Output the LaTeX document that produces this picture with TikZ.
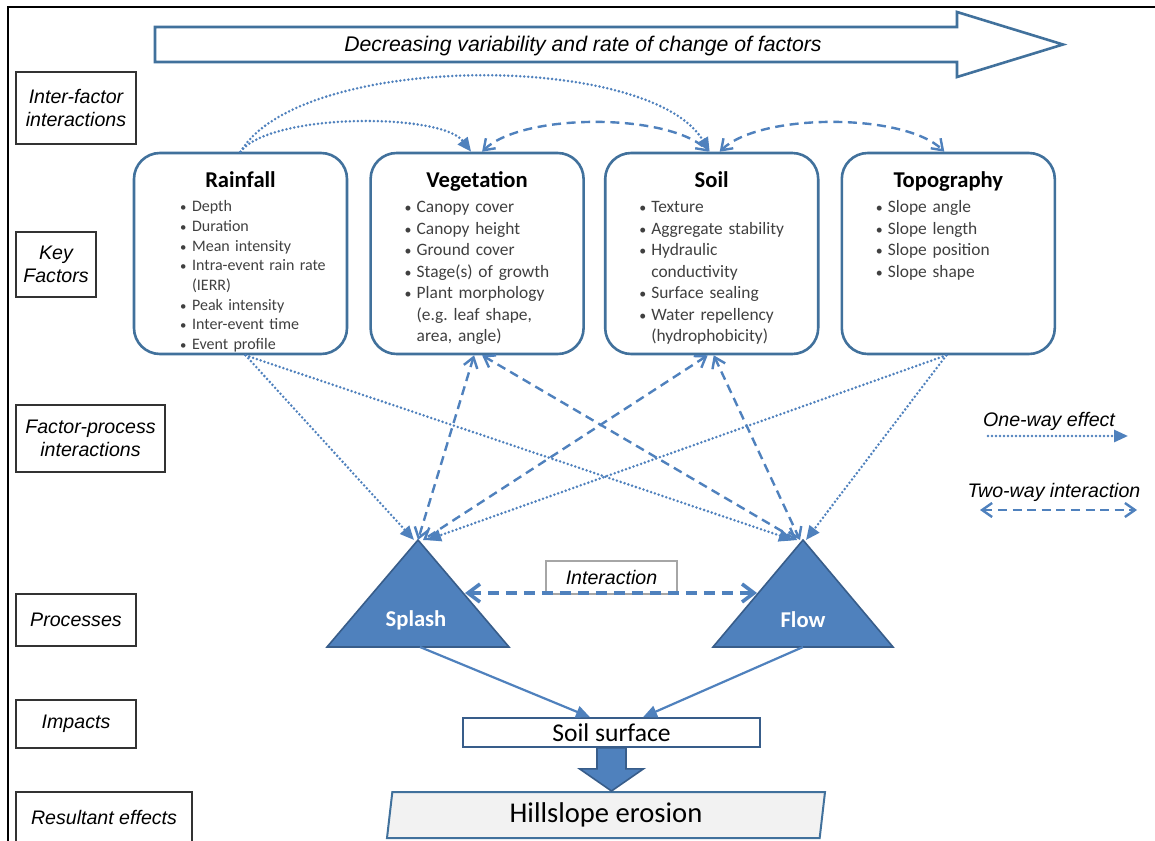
\documentclass[tikz,border=0pt]{standalone}
\usepackage{graphicx}
\usepackage{fontspec}
\setmainfont{Carlito}
\newfontfamily\arialfont{Liberation Sans}
\usetikzlibrary{arrows.meta,positioning,shapes.geometric,calc}
\definecolor{boxblue}{HTML}{41719C}
\definecolor{linkblue}{HTML}{4F81BD}
\definecolor{darkblue}{HTML}{385D8A}
\definecolor{itemgray}{HTML}{404040}
\definecolor{hillgray}{HTML}{F2F2F2}
\newcommand\itembul{\makebox[6pt][l]{\scalebox{0.8}{\textbullet}}}
\newcommand\itemcont{\hspace*{6pt}}

\begin{document}
\begin{tikzpicture}[x=0.5pt,y=-0.5pt,
    level/.style={draw=black!80, line width=0.7pt, align=center, inner sep=0pt,
        font=\arialfont\itshape\fontsize{9.8pt}{11.6pt}\selectfont},
    factor/.style={draw=boxblue, line width=1.3pt, rounded corners=13pt,
        minimum width=106.5pt, minimum height=100.5pt},
    factortitle/.style={font=\fontsize{11.3pt}{13pt}\selectfont\bfseries, inner sep=0pt},
    factorlist/.style={font=\fontsize{8.7pt}{10.75pt}\selectfont, text=itemgray,
        inner sep=0pt, text width=90pt, align=left, anchor=base west},
    oneway/.style={draw=linkblue, line width=1.4pt, line cap=round,
        dash pattern=on 0pt off 2pt, -{Triangle[length=7pt,width=6pt]}},
    twoway/.style={draw=linkblue, line width=1.2pt, dash pattern=on 4.5pt off 2.8pt,
        {Straight Barb[length=5pt,width=7pt]}-{Straight Barb[length=5pt,width=7pt]}},
    process/.style={fill=linkblue, draw=darkblue, line width=0.8pt},
    proclabel/.style={text=white, font=\fontsize{11.3pt}{13pt}\selectfont\bfseries},
    impact/.style={draw=linkblue, line width=1.1pt, -{Triangle[length=7pt,width=6pt]}},
    legend/.style={font=\arialfont\itshape\fontsize{9.8pt}{11.6pt}\selectfont},
]
    \useasboundingbox (0,0) rectangle (1155,840);
    \fill[white] (0,0) rectangle (1155,840);
    \draw[line width=1.4pt] (8,850) |- (1165,7);

    % Trend arrow
    \draw[boxblue, line width=1.3pt] (155,27) -- (957,27) -- (957,12) -- (1063,44.5)
        -- (957,77) -- (957,62) -- (155,62) -- cycle;
    \node[font=\arialfont\itshape\fontsize{10.6pt}{12pt}\selectfont] (trend) at (583,46)
        {Decreasing variability and rate of change of factors};

    % Levels
    \node[level, minimum width=60pt, minimum height=36pt] (lvinter) at (76,108) {Inter-factor\\interactions};
    \node[level, minimum width=40pt, minimum height=32.5pt] (lvkey) at (56,264.5) {Key\\Factors};
    \node[level, minimum width=74.5pt, minimum height=33.5pt] (lvfp) at (90.5,438.5) {Factor-process\\interactions};
    \node[level, minimum width=60pt, minimum height=26pt] (lvproc) at (76,620) {Processes};
    \node[level, minimum width=60pt, minimum height=24pt] (lvimp) at (76,724) {Impacts};
    \node[level, minimum width=88pt, minimum height=29pt] (lvres) at (104,821) {};
    \node[legend] (lvrestext) at (104,817) {Resultant effects};

    % Key factors
    \node[factor] (rain) at (240.5,253.5) {};
    \node[factor, right=10.5pt of rain] (veg) {};
    \node[factor, right=9.5pt of veg] (soil) {};
    \node[factor, right=10.5pt of soil] (topo) {};

    \node[factortitle, below=10pt of rain.north] (raintitle) {Rainfall};
    \node[factortitle, below=10pt of veg.north] (vegtitle) {Vegetation};
    \node[factortitle, below=10pt of soil.north] (soiltitle) {Soil};
    \node[factortitle, below=10pt of topo.north] (topotitle) {Topography};

    \node[factorlist, font=\fontsize{8pt}{9.85pt}\selectfont] (rainlist) at ($(rain.north west)+(47,60)$)
        {\itembul Depth\\ \itembul Duration\\ \itembul Mean intensity\\ \itembul Intra-event rain rate\\
         \itemcont (IERR)\\ \itembul Peak intensity\\ \itembul Inter-event time\\ \itembul Event profile};
    \node[factorlist] (veglist) at ($(veg.north west)+(35,61)$)
        {\itembul Canopy cover\\ \itembul Canopy height\\ \itembul Ground cover\\ \itembul Stage(s) of growth\\
         \itembul Plant morphology\\ \itemcont (e.g.\ leaf shape,\\ \itemcont area, angle)};
    \node[factorlist] (soillist) at ($(soil.north west)+(35,61)$)
        {\itembul Texture\\ \itembul Aggregate stability\\ \itembul Hydraulic\\ \itemcont conductivity\\
         \itembul Surface sealing\\ \itembul Water repellency\\ \itemcont (hydrophobicity)};
    \node[factorlist] (topolist) at ($(topo.north west)+(35,61)$)
        {\itembul Slope angle\\ \itembul Slope length\\ \itembul Slope position\\ \itembul Slope shape};

    % Inter-factor interactions
    \draw[oneway] (rain.north) .. controls +(60,-100) and +(-60,-100) .. ([xshift=-1pt]soil.north);
    \draw[oneway] (rain.north) .. controls +(30,-39) and +(-30,-39) .. ([xshift=-3pt]veg.north);
    \draw[twoway] ([xshift=2.5pt]veg.north) .. controls +(40,-39) and +(-40,-39) .. ([xshift=-1.5pt]soil.north);
    \draw[twoway] ([xshift=4pt]soil.north) .. controls +(40,-39) and +(-40,-39) .. ([xshift=-2pt]topo.north);

    % Processes
    \coordinate (splash) at (418,540);
    \coordinate (flow) at (803,540);
    \filldraw[process] (splash) -- ++(-91,107) -- ++(182,0) -- cycle;
    \filldraw[process] (flow) -- ++(-90,107) -- ++(180,0) -- cycle;
    \node[proclabel] (splashlabel) at (416,620) {Splash};
    \node[proclabel] (flowlabel) at (803,620) {Flow};
    \coordinate (splashbase) at (420,647);
    \coordinate (flowbase) at (803,647);
    \coordinate (splashside) at (465,593);
    \coordinate (flowside) at (757,593);

    % Factor-process interactions
    \draw[oneway] ([xshift=2.5pt]rain.south) -- ([xshift=-2pt]splash);
    \draw[oneway] ([xshift=2.5pt]rain.south) -- ([xshift=-5pt]flow);
    \draw[twoway] ([xshift=-1.5pt]veg.south) -- (splash);
    \draw[twoway] ([xshift=2.5pt]veg.south) -- ([xshift=-3pt]flow);
    \draw[twoway] ([xshift=-2pt]soil.south) -- ([xshift=2.5pt]splash);
    \draw[twoway] ([xshift=1pt]soil.south) -- ([xshift=-1.5pt]flow);
    \draw[oneway] ([xshift=-1pt]topo.south) -- ([xshift=4.5pt]splash);
    \draw[oneway] ([xshift=-1pt]topo.south) -- ([xshift=1.5pt]flow);

    % Interaction between processes
    \node[draw=black!35, line width=0.6pt, minimum width=65.5pt, minimum height=16.5pt, inner sep=0pt,
        font=\arialfont\itshape\fontsize{9.8pt}{11pt}\selectfont] (inter) at (611.5,577.5) {Interaction};
    \draw[twoway, line width=1.8pt, dash pattern=on 5.5pt off 3.5pt,
        {Straight Barb[length=6pt,width=9pt]}-{Straight Barb[length=6pt,width=9pt]}] (splashside) -- (flowside);

    % Impacts and resultant effects
    \node[draw=darkblue, line width=0.8pt, minimum width=148.5pt, minimum height=14.5pt, inner sep=0pt,
        font=\fontsize{12.8pt}{14pt}\selectfont] (surface) at (611.5,732.5) {Soil surface};
    \draw[impact] (splashbase) -- ([xshift=-10.75pt]surface.north);
    \draw[impact] (flowbase) -- ([xshift=15.75pt]surface.north);

    \node[trapezium, trapezium left angle=77.7, trapezium right angle=102.3, trapezium stretches body,
        draw=boxblue, fill=hillgray, line width=1pt, minimum width=219pt, minimum height=23pt, inner sep=0pt,
        font=\fontsize{14.3pt}{16pt}\selectfont] (erosion) at (606,815) {Hillslope erosion};
    \filldraw[process] ($(surface.south)+(-14.5,0)$) -- ++(0,21) -- ++(-17.5,0)
        -- (surface.south |- erosion.north) -- ($(surface.south)+(32,21)$) -- ++(-17.5,0)
        -- ($(surface.south)+(14.5,0)$) -- cycle;

    % Legend
    \node[legend] (onelabel) at (1049,421) {One-way effect};
    \coordinate (onestart) at (988,436);
    \coordinate (oneend) at (1128,436);
    \draw[oneway] (onestart) -- (oneend);
    \node[legend] (twolabel) at (1054,492) {Two-way interaction};
    \coordinate (twostart) at (980,510);
    \coordinate (twoend) at (1137,510);
    \draw[twoway] (twostart) -- (twoend);
\end{tikzpicture}
\end{document}
